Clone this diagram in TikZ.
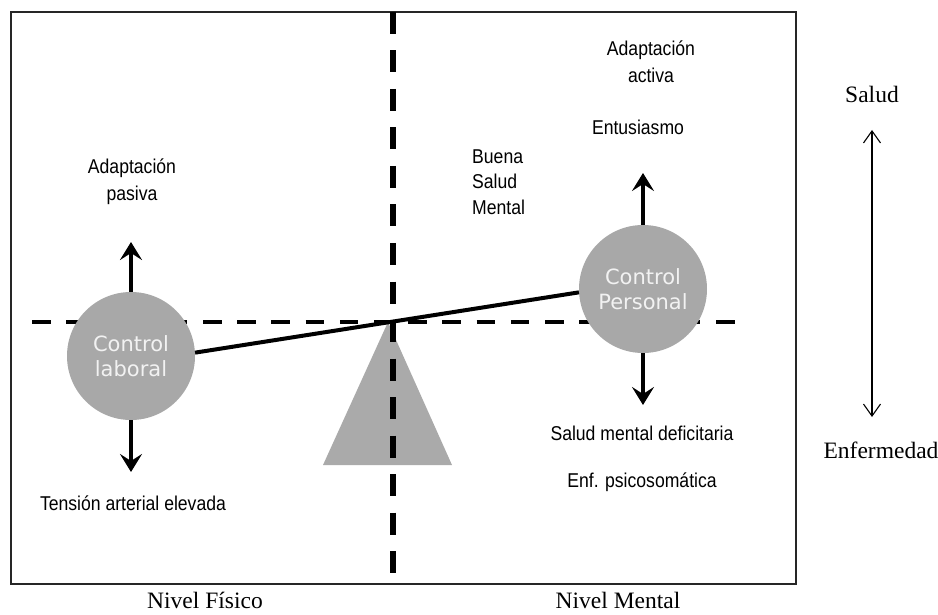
\documentclass[tikz,border=0pt]{standalone}
\usepackage{fontspec}
\setmainfont{Liberation Serif}
\newfontfamily\arialn[FakeStretch=0.88]{Liberation Sans}
\newfontfamily\verd{DejaVu Sans}
\usetikzlibrary{arrows.meta}
\definecolor{ballgray}{RGB}{168,168,168}
\definecolor{trigray}{RGB}{170,170,170}
\definecolor{balltext}{RGB}{242,242,242}
\begin{document}
\begin{tikzpicture}[x=1pt,y=-1pt,
  lbl/.style={font=\arialn\fontsize{20}{27}\selectfont, align=center, inner sep=0pt},
  ser/.style={font=\fontsize{23.5}{28}\selectfont, inner sep=0pt},
  ball/.style={circle, fill=ballgray, minimum size=128pt, inner sep=0pt,
    font=\verd\fontsize{21}{25}\selectfont, text=balltext, align=center},
  bigarrow/.style={line width=4.5pt, -{Stealth[length=18pt,width=22pt,inset=7pt]}},
  thinarrow/.style={line width=1.1pt, {Straight Barb[length=12pt,width=17pt]}-{Straight Barb[length=12pt,width=17pt]}},
  hdash/.style={line width=4pt, dash pattern=on 18.5pt off 15.7pt},
  vdash/.style={line width=5.5pt, dash pattern=on 22pt off 16.5pt},
  seesaw/.style={line width=4pt},
  frame/.style={line width=1.3pt, draw=black!85}
]
\useasboundingbox (0,0) rectangle (938,615);
% frame
\draw[frame] (11,12) rectangle (796,584);
% fulcrum
\fill[trigray] (388,322) -- (323,465) -- (452,465) -- cycle;
% horizontal dashed line
\coordinate (hl) at (32,322);
\coordinate (hr) at (737,322);
\draw[hdash] (hl) -- (hr);
% vertical dashed line
\coordinate (vt) at (393,12);
\coordinate (vb) at (393,578);
\draw[vdash] (vt) -- (vb);
% balls
\node[ball] (lc) at (131,356) {Control\\laboral};
\node[ball] (rc) at (643,289) {Control\\Personal};
% seesaw beam
\draw[seesaw] (lc.3) -- (rc.183);
% arrows
\coordinate (lup) at (131,242);
\coordinate (ldn) at (131,472);
\coordinate (rup) at (643,173);
\coordinate (rdn) at (643,405);
\draw[bigarrow] (lc.north) -- (lup);
\draw[bigarrow] (lc.south) -- (ldn);
\draw[bigarrow] (rc.north) -- (rup);
\draw[bigarrow] (rc.south) -- (rdn);
% labels
\node[lbl] (ap) at (132,182) {Adaptación\\pasiva};
\node[lbl] (tae) at (133,503) {Tensión arterial elevada};
\node[lbl] (aa) at (651,62) {Adaptación\\activa};
\node[lbl] (ent) at (638,127) {Entusiasmo};
\node[lbl, align=left, anchor=west, font=\arialn\fontsize{20}{25.5}\selectfont] (bsm) at (472,182) {Buena\\Salud\\Mental};
\node[lbl] (smd) at (642,433) {Salud mental deficitaria};
\node[lbl] (eps) at (642,482) {Enf. psicosomática};
% right scale
\node[ser] (salud) at (872,94) {Salud};
\node[ser] (enf) at (881,450) {Enfermedad};
\coordinate (sa1) at (872,130);
\coordinate (sa2) at (872,417);
\draw[thinarrow] (sa1) -- (sa2);
% bottom labels
\node[ser] (nf) at (205,600) {Nivel Físico};
\node[ser] (nm) at (618,600) {Nivel Mental};
\end{tikzpicture}
\end{document}
